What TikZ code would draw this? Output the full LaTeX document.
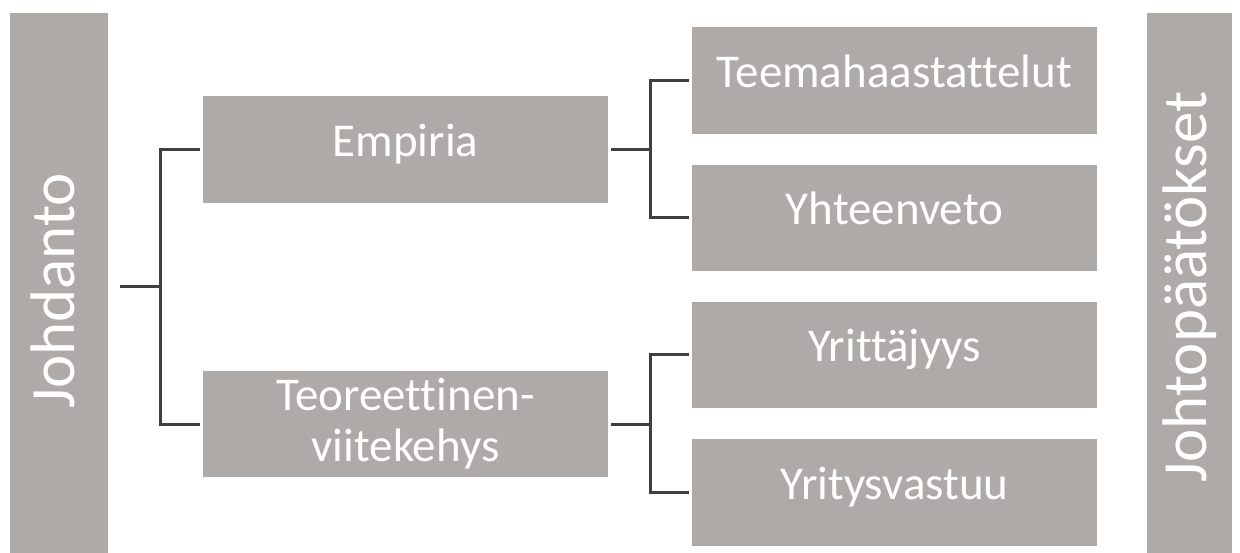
\documentclass[tikz,border=0pt]{standalone}
\usepackage{fontspec}
\setmainfont[Ligatures=NoCommon]{Carlito}
\usetikzlibrary{calc}
\definecolor{boxgray}{RGB}{174,170,168}
\definecolor{linegray}{RGB}{64,64,64}
\tikzset{
  graybox/.style={rectangle, fill=boxgray, draw=none, inner sep=0pt, text=white,
    minimum width=405pt, minimum height=107pt, align=center,
    font=\fontsize{47}{51}\selectfont},
  oneline/.style={text height=34pt, text depth=20pt},
  sidebox/.style={rectangle, fill=boxgray, draw=none, inner sep=0pt,
    minimum height=540pt},
  sidetext/.style={rotate=90, text=white, inner sep=0pt, font=\fontsize{63}{67}\selectfont},
  conn/.style={draw=linegray, line width=3pt, line cap=butt, line join=miter}
}
\begin{document}
\begin{tikzpicture}[x=1pt,y=-1pt]
\useasboundingbox (0,0) rectangle (1240,553);
% side boxes
\node[sidebox, minimum width=98pt] (jo) at (59,283) {};
\node[sidetext] (jotext) at ($(jo.center)+(-6,8)$) {Johdanto};
\node[sidebox, minimum width=85pt] (jp) at (1189.5,283) {};
\node[sidetext] (jptext) at ($(jp.center)+(0,4)$) {Johtopäätökset};
% middle level
\node[graybox, oneline] (emp) at (405.5,149.5) {Empiria};
\node[graybox, minimum height=106pt] (teor) at (405.5,424) {Teoreettinen-\\viitekehys};
% right level
\node[graybox, oneline] (teema) at (894.5,80.5) {Teemahaastattelut};
\node[graybox, oneline, minimum height=106pt] (yht) at (894.5,218) {Yhteenveto};
\node[graybox, oneline, minimum height=106pt] (yrit) at (894.5,355) {Yrittäjyys};
\node[graybox, oneline] (yvas) at (894.5,492.5) {Yritysvastuu};
% connectors root
\coordinate (spine) at ($(emp.west)!0.5!(teor.west)+(-42,0)$);
\coordinate (joout) at ([xshift=12pt]jo.east |- spine);
\draw[conn] ([xshift=-3pt]emp.west) -| (spine) |- ([xshift=-3pt]teor.west);
\draw[conn] (joout) -- (spine);
% connectors Empiria
\coordinate (sp1) at ([xshift=42pt]emp.east);
\draw[conn] ([xshift=3pt]emp.east) -- (sp1);
\draw[conn] ([xshift=-3pt]teema.west) -| (sp1) |- ([xshift=-3pt]yht.west);
% connectors Teoreettinen
\coordinate (sp2) at ([xshift=42pt]teor.east);
\draw[conn] ([xshift=3pt]teor.east) -- (sp2);
\draw[conn] ([xshift=-3pt]yrit.west) -| (sp2) |- ([xshift=-3pt]yvas.west);
\end{tikzpicture}
\end{document}
